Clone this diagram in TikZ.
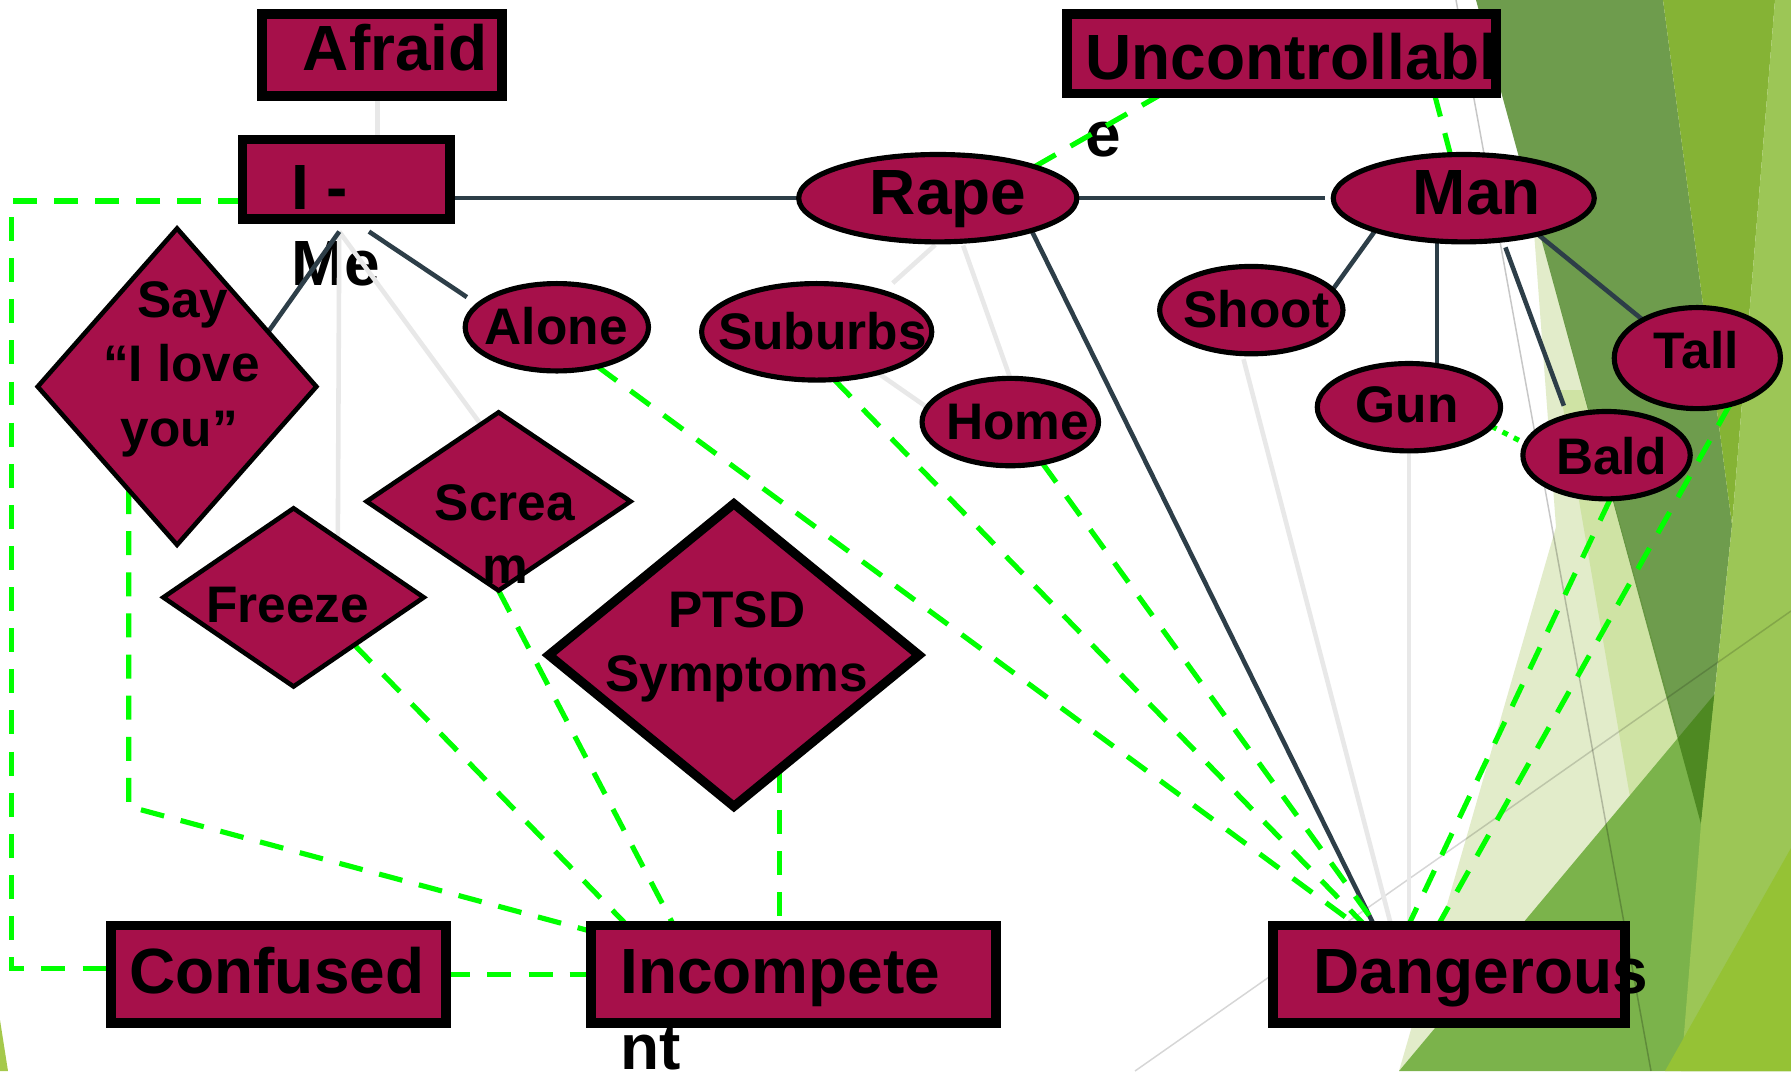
\documentclass[tikz,border=0pt]{standalone}
\usepackage{fontspec}
\setmainfont{Liberation Sans}
\usetikzlibrary{shapes.geometric,calc}
\definecolor{maroon}{HTML}{A6104A}
\definecolor{slate}{HTML}{2D3E48}
\definecolor{softgrey}{HTML}{E8E8E8}
\definecolor{neon}{HTML}{00FF00}
\definecolor{paleA}{HTML}{E2ECCA}
\definecolor{paleB}{HTML}{CFE3A4}
\definecolor{greenG}{HTML}{7BB34B}
\definecolor{olive}{RGB}{65,125,22}
\definecolor{ygA}{HTML}{85B335}
\definecolor{lgreen}{HTML}{9CC656}
\definecolor{ygB}{HTML}{95C235}
\definecolor{ygC}{HTML}{A5C94B}
\pgfdeclarelayer{bg}
\pgfdeclarelayer{txt}
\pgfdeclarelayer{lines}
\pgfsetlayers{bg,txt,lines,main}
\begin{document}
\begin{tikzpicture}[x=1pt,y=-1pt,
  rbox/.style={rectangle,draw=black,line width=8.5pt,fill=maroon,inner sep=0pt,outer sep=0pt},
  ell/.style={ellipse,draw=black,line width=4.5pt,fill=maroon,inner sep=0pt,outer sep=0pt},
  dia/.style={diamond,draw=black,line width=4pt,fill=maroon,inner sep=0pt,outer sep=0pt},
  bigtxt/.style={font=\bfseries\fontsize{56}{67}\selectfont,inner sep=0pt,anchor=base west},
  bigc/.style={font=\bfseries\fontsize{56}{67}\selectfont,inner sep=0pt,anchor=base},
  smtxt/.style={font=\bfseries\fontsize{45}{55}\selectfont,inner sep=0pt,anchor=base},
  darkln/.style={draw=slate,line width=4pt},
  greyln/.style={draw=softgrey,line width=4pt},
  grn/.style={draw=neon,line width=4.5pt,dash pattern=on 21pt off 15pt},
  grndot/.style={draw=neon,line width=4.5pt,dash pattern=on 5pt off 6pt},
]
\useasboundingbox (0,0) rectangle (1568,938);

% ---------- background ----------
\begin{pgfonlayer}{bg}
\fill[white] (0,0) rectangle (1568,938);
\begin{scope}[scale=0.87549]
\fill[paleA] (1532,205) -- (1556,527) -- (1399,1071) -- (1680,740) -- cycle;
\fill[paleB] (1560,390) -- (1630,797) -- (1701,824) -- (1582,390) -- cycle;
\fill[greenG] (1399,1071) -- (1791,603) -- (1791,1071) -- cycle;
\fill[olive,opacity=0.76] (1476,0) -- (1663,0) -- (1732,525) -- (1701,824) -- cycle;
\fill[ygA] (1663,0) -- (1775,0) -- (1732,525) -- cycle;
\fill[lgreen] (1775,0) -- (1791,0) -- (1791,1071) -- (1681,1071) -- (1701,824) -- (1732,525) -- cycle;
\fill[ygB] (1665,1071) -- (1791,848) -- (1791,1071) -- cycle;
\fill[ygC] (0,1020) -- (8,1071) -- (0,1071) -- cycle;
\draw[black,opacity=0.22,line width=1.3pt] (1456,0) -- (1651,1071);
\draw[black,opacity=0.16,line width=1.3pt] (1135,1071) -- (1791,611);
\end{scope}
\end{pgfonlayer}

% ---------- shapes ----------
\node[rbox,minimum width=210.5pt,minimum height=71.5pt] (afraid) at (334.5,48) {};
\node[rbox,minimum width=375.5pt,minimum height=69.5pt] (unc) at (1122,47) {};
\node[rbox,minimum width=181.5pt,minimum height=69.5pt] (ime) at (303,157) {};
\node[rbox,minimum width=293.5pt,minimum height=85.5pt] (conf) at (244,853) {};
\node[rbox,minimum width=354.5pt,minimum height=85.5pt] (inc) at (694.5,853) {};
\node[rbox,minimum width=308.5pt,minimum height=85.5pt] (dang) at (1268.5,853) {};

\node[ell,minimum width=243.5pt,minimum height=76.5pt] (rape) at (821,173.5) {};
\node[ell,minimum width=228.5pt,minimum height=76.5pt] (man) at (1281.5,173.5) {};
\node[ell,minimum width=160.5pt,minimum height=76.5pt] (alone) at (487.5,286.5) {};
\node[ell,minimum width=201.5pt,minimum height=84.5pt] (sub) at (715,290.5) {};
\node[ell,minimum width=154.5pt,minimum height=76.5pt] (home) at (884.5,369.5) {};
\node[ell,minimum width=160.5pt,minimum height=76.5pt] (shoot) at (1095.5,271.5) {};
\node[ell,minimum width=160.5pt,minimum height=76.5pt] (gun) at (1233.5,356.5) {};
\node[ell,minimum width=145.5pt,minimum height=88.5pt] (tall) at (1486,313.5) {};
\node[ell,minimum width=146.5pt,minimum height=76.5pt] (bald) at (1406.5,398.5) {};

\node[dia,minimum width=244pt,minimum height=277pt] (say) at (155,338.5) {};
\node[dia,minimum width=231pt,minimum height=156pt] (scream) at (436.5,439) {};
\node[dia,minimum width=228pt,minimum height=156pt] (freeze) at (257,523) {};
\node[dia,line width=8pt,minimum width=324pt,minimum height=265pt] (ptsd) at (642.5,573.5) {};

% ---------- texts ----------
\node[bigtxt] (tafraid) at (265,62) {Afraid};
\node[bigtxt] (tunc) at (950,70) {Uncontrollabl};
\node[bigtxt] (time) at (255,183) {I -};
\node[bigc] (trape) at (830,188) {Rape};
\node[bigc] (tman) at (1293,188) {Man};
\node[bigtxt] (tconf) at (113,870) {Confused};
\node[bigtxt] (tinc) at (543,870) {Incompete};
\node[bigtxt] (tdang) at (1150,870) {Dangerous};

\node[smtxt] (talone) at (487,302) {Alone};
\node[smtxt] (tsub) at (720,306) {Suburbs};
\node[smtxt] (thome) at (891,385) {Home};
\node[smtxt] (tshoot) at (1100,287) {Shoot};
\node[smtxt] (tgun) at (1232,370) {Gun};
\node[smtxt] (ttall) at (1485,323) {Tall};
\node[smtxt] (tbald) at (1411,415) {Bald};
\node[smtxt] (tfreeze) at (252,545) {Freeze};
\node[smtxt] (tscrA) at (442,456) {Screa};
\node[smtxt] (tscrB) at (442,511) {m};
\node[smtxt] (tptsdA) at (645,549) {PTSD};
\node[smtxt] (tptsdB) at (645,605) {Symptoms};
\node[smtxt] (tsayA) at (160,278) {Say};
\node[smtxt] (tsayB) at (159,334) {“I love};
\node[smtxt] (tsayC) at (157,391) {you”};

\begin{pgfonlayer}{txt}
\node[bigtxt] (te) at (950,137) {e};
\node[bigtxt] (tme) at (255,250) {Me};
\node[bigtxt] (tnt) at (543,936) {nt};
\end{pgfonlayer}

% ---------- connectors ----------
\coordinate (hubA) at ($(ime.south)+(-6,11)$);
\coordinate (hubB) at ($(ime.south)+(20,11)$);
\coordinate (afr) at ($(afraid.south)+(-4,0)$);
\coordinate (ptsdout) at (ptsd.-68.5);
\coordinate (manout) at (man.-122);
\coordinate (imeleft) at ($(ime.west)+(0,19)$);
\coordinate (d1) at ($(dang.north west)!0.239!(dang.north east)$);
\coordinate (d2) at ($(dang.north west)!0.262!(dang.north east)$);
\coordinate (d3) at ($(dang.north west)!0.294!(dang.north east)$);
\coordinate (d4) at ($(dang.north west)!0.288!(dang.north east)$);
\coordinate (d5) at ($(dang.north west)!0.336!(dang.north east)$);
\coordinate (d6) at ($(dang.north west)!0.385!(dang.north east)$);
\coordinate (d7) at ($(dang.north west)!0.469!(dang.north east)$);
\coordinate (i1) at ($(inc.north west)!0.09!(inc.north east)$);
\coordinate (i2) at ($(inc.north west)!0.205!(inc.north east)$);
\coordinate (u1) at ($(unc.south west)!0.223!(unc.south east)$);
\coordinate (u2) at ($(unc.south west)!0.856!(unc.south east)$);

\begin{pgfonlayer}{lines}
% light grey
\draw[greyln] (afr) -- (afr |- ime.north);
\draw[greyln] (hubA) -- (freeze.53);
\draw[greyln] (hubA) -- (scream.103);
\draw[greyln,shorten <=4pt,shorten >=12pt] (rape.-89) -- (sub.31);
\draw[greyln,shorten <=4pt] (rape.-61) -- (home.north);
\draw[greyln] (sub.-34) -- (home.170);
\draw[greyln,shorten <=5pt] (shoot.-102) -- (d5);
\draw[greyln] (gun.south) -- (gun.south |- dang.north);
% dark
\draw[darkln] (ime.east |- rape.west) -- (rape.west);
\draw[darkln,shorten >=7pt] (rape.east) -- (man.west);
\draw[darkln] (hubA) -- (say.31);
\draw[darkln,shorten >=12pt] (hubB) -- (alone.164);
\draw[darkln] (rape.-19) -- (d4);
\draw[darkln] (man.-160) -- (shoot.14);
\draw[darkln] (manout) -- (manout |- gun.north);
\draw[darkln,shorten <=7pt,shorten >=10pt] (man.-47) -- (bald.135);
\draw[darkln] (man.-26) -- (tall.145);
% green dashed
\draw[grn] (imeleft) -- ++(-202,0) |- ($(conf.west)+(0,-5)$);
\draw[grn] (say.-115) -- ++(0,277) -- ($(inc.north west)+(0,5)$);
\draw[grn] (conf.east) -- (inc.west);
\draw[grn] (freeze.-38) -- (i1);
\draw[grn] (scream.south) -- (i2);
\draw[grn] (ptsdout) -- (ptsdout |- inc.north);
\draw[grn] (alone.-44) -- (d1);
\draw[grn] (sub.-70) -- (d2);
\draw[grn] (home.-52) -- (d3);
\draw[grn] (u1) -- (rape.18);
\draw[grn] (u2) -- (man.107);
\draw[grndot] (gun.-13) -- (bald.172);
\draw[grn] (bald.-85) -- (d6);
\draw[grn] (tall.-55) -- (d7);
\end{pgfonlayer}
\end{tikzpicture}
\end{document}
